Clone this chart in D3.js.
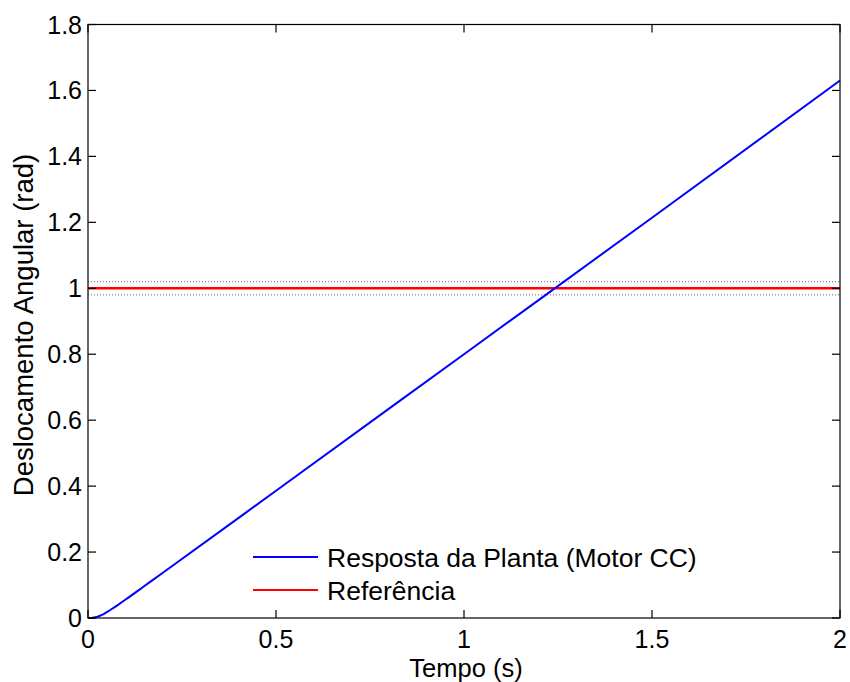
<!DOCTYPE html>
<html>
<head>
<meta charset="utf-8">
<script src="https://cdn.jsdelivr.net/npm/d3@7"></script>
<style>
  body { margin: 0; background: #fff; }
  svg text { font-family: "Liberation Sans", Arial, sans-serif; fill: #000; }
</style>
</head>
<body>
<svg id="chart" width="850" height="682"></svg>
<script>
// resposta do motor CC
const tempo = [0, 0.01, 0.02, 0.03, 0.04, 0.05, 0.06, 0.08, 0.10, 0.15, 0.20, 0.50, 1.00, 1.50, 2.00];
const resposta = [0, 0.0003, 0.002, 0.006, 0.011, 0.018, 0.025, 0.040, 0.056, 0.097, 0.138, 0.386, 0.800, 1.214, 1.630];
const referencia = [1, 1];
const faixa = [0.98, 1.02];
const xTicks = [0, 0.5, 1, 1.5, 2];
const yTicks = [0, 0.2, 0.4, 0.6, 0.8, 1, 1.2, 1.4, 1.6, 1.8];
const legenda = ["Resposta da Planta (Motor CC)", "Referência"];

const svg = d3.select('#chart');
const m = {l: 88, r: 10, t: 24.5, b: 64};
const W = 850, H = 682;
const x = d3.scaleLinear().domain([0, 2]).range([m.l, W - m.r]);
const y = d3.scaleLinear().domain([0, 1.8]).range([H - m.b, m.t]);
const fs = 25;

/* faixa de tolerância pontilhada */
faixa.forEach(v => {
  svg.append('line')
    .attr('x1', x(0)).attr('x2', x(2)).attr('y1', y(v)).attr('y2', y(v))
    .attr('stroke', '#666').attr('stroke-width', 1).attr('stroke-dasharray', '1,2');
});

/* referência */
svg.append('line')
  .attr('x1', x(0)).attr('x2', x(2)).attr('y1', y(referencia[0])).attr('y2', y(referencia[1]))
  .attr('stroke', '#ff0000').attr('stroke-width', 2.5);

/* resposta */
const line = d3.line().x((d, i) => x(tempo[i])).y(d => y(d)).curve(d3.curveMonotoneX);
svg.append('path').datum(resposta)
  .attr('d', line).attr('fill', 'none')
  .attr('stroke', '#0000ff').attr('stroke-width', 2);

/* eixos */
const tick = 8;
const ax = svg.append('g').attr('stroke', '#000').attr('stroke-width', 1.2);
ax.append('rect').attr('x', x(0)).attr('y', y(1.8)).attr('width', x(2) - x(0)).attr('height', y(0) - y(1.8))
  .attr('fill', 'none');
xTicks.forEach(v => {
  ax.append('line').attr('x1', x(v)).attr('x2', x(v)).attr('y1', y(0)).attr('y2', y(0) - tick);
  ax.append('line').attr('x1', x(v)).attr('x2', x(v)).attr('y1', y(1.8)).attr('y2', y(1.8) + tick);
  svg.append('text').attr('x', x(v)).attr('y', y(0) + 30).attr('text-anchor', 'middle')
    .attr('font-size', fs).text(v);
});
yTicks.forEach(v => {
  ax.append('line').attr('x1', x(0)).attr('x2', x(0) + tick).attr('y1', y(v)).attr('y2', y(v));
  ax.append('line').attr('x1', x(2)).attr('x2', x(2) - tick).attr('y1', y(v)).attr('y2', y(v));
  svg.append('text').attr('x', x(0) - 6).attr('y', y(v) + 9).attr('text-anchor', 'end')
    .attr('font-size', fs).text(v);
});

svg.append('text').attr('x', 466).attr('y', 677).attr('text-anchor', 'middle')
  .attr('font-size', 25.5).text('Tempo (s)');
svg.append('text').attr('transform', `translate(33,325) rotate(-90)`)
  .attr('text-anchor', 'middle').attr('font-size', 27.5).text('Deslocamento Angular (rad)');

/* legenda */
const cores = ['#0000ff', '#ff0000'];
legenda.forEach((t, i) => {
  const ly = 557 + i * 33;
  svg.append('line').attr('x1', 253).attr('x2', 318).attr('y1', ly).attr('y2', ly)
    .attr('stroke', cores[i]).attr('stroke-width', 2);
  svg.append('text').attr('x', 327).attr('y', ly + 10).attr('font-size', 26.5).text(t);
});
</script>
</body>
</html>
